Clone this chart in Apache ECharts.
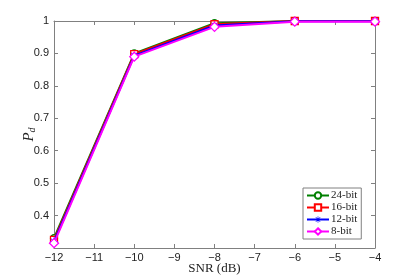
<!DOCTYPE html>
<html><head><meta charset="utf-8">
<script src="https://cdn.jsdelivr.net/npm/echarts@6/dist/echarts.min.js"></script>
<style>html,body{margin:0;padding:0;background:#fff}#c{width:415px;height:280px}</style>
</head><body><div id="c"></div>
<script>
const snr = [-12, -10, -8, -6, -4];
const bit24 = [0.330, 0.900, 0.993, 1.000, 1.000];
const bit16 = [0.325, 0.898, 0.990, 1.000, 1.000];
const bit12 = [0.320, 0.893, 0.986, 0.999, 0.999];
const bit8  = [0.315, 0.890, 0.982, 0.998, 0.998];
const names = ['24-bit', '16-bit', '12-bit', '8-bit'];
const colors = ['#008000', '#ff0000', '#0000ff', '#ff00ff'];
const vals = [bit24, bit16, bit12, bit8];
const star = 'path://M-1,-10L1,-10L1,10L-1,10ZM-10,-1L10,-1L10,1L-10,1ZM-6.3,-7.7L7.7,6.3L6.3,7.7L-7.7,-6.3ZM6.3,-7.7L7.7,-6.3L-6.3,7.7L-7.7,6.3Z';
const symbols = ['circle', 'rect', star, 'diamond'];
const sizes = [7, 7, 8, 9];
const fills = ['#fff', '#fff', '#0000ff', '#fff'];

const chart = echarts.init(document.getElementById('c'), null, {renderer: 'canvas'});
const axisCol = '#808080';
const series = names.map((n, i) => ({
  name: n, type: 'line',
  data: snr.map((x, j) => [x, vals[i][j]]),
  symbol: symbols[i], symbolSize: sizes[i],
  showAllSymbol: true,
  lineStyle: {color: colors[i], width: 2},
  itemStyle: {color: fills[i], borderColor: colors[i], borderWidth: i === 2 ? 0 : 1.3},
  z: 2 + i
}));
chart.setOption({
  animation: false,
  grid: {left: 54, right: 40, top: 21, bottom: 31},
  xAxis: [{
    type: 'value', min: -12, max: -4, interval: 1, position: 'bottom',
    name: 'SNR (dB)', nameLocation: 'middle', nameGap: 14, nameMoveOverlap: false,
    nameTextStyle: {fontFamily: 'Liberation Serif', fontSize: 13, color: '#222'},
    axisLine: {onZero: false, lineStyle: {color: axisCol, width: 1}},
    axisTick: {inside: true, length: 4, lineStyle: {color: axisCol}},
    axisLabel: {fontFamily: 'Liberation Sans', fontSize: 11, color: '#222', margin: 4,
      formatter: v => (v < 0 ? '\u2212' + (-v) : '' + v)},
    splitLine: {show: false}
  }, {
    type: 'value', min: -12, max: -4, interval: 1, position: 'top',
    axisLine: {onZero: false, lineStyle: {color: axisCol, width: 1}},
    axisTick: {inside: true, length: 4, lineStyle: {color: axisCol}},
    axisLabel: {show: false}, splitLine: {show: false}
  }],
  yAxis: [{
    type: 'value', min: 0.3, max: 1, interval: 0.1, position: 'left',
    name: '{p|P}{d|d}', nameLocation: 'middle', nameGap: 17, nameRotate: 90, nameMoveOverlap: false,
    nameTextStyle: {fontFamily: 'Liberation Serif', fontStyle: 'italic', fontSize: 14, color: '#222',
      rich: {
        p: {fontFamily: 'Liberation Serif', fontStyle: 'italic', fontSize: 15, color: '#222'},
        d: {fontFamily: 'Liberation Serif', fontStyle: 'italic', fontSize: 10, color: '#222', verticalAlign: 'bottom', padding: [6, 0, 0, 0]}
      }},
    axisLine: {onZero: false, lineStyle: {color: axisCol, width: 1}},
    axisTick: {inside: true, length: 4, lineStyle: {color: axisCol}},
    axisLabel: {fontFamily: 'Liberation Sans', fontSize: 11, color: '#222', margin: 5,
      formatter: v => (Math.abs(v - 0.3) < 1e-6 ? '' : (Math.abs(v - 1) < 1e-6 ? '1' : v.toFixed(1)))},
    splitLine: {show: false}
  }, {
    type: 'value', min: 0.3, max: 1, interval: 0.1, position: 'right',
    axisLine: {onZero: false, lineStyle: {color: axisCol, width: 1}},
    axisTick: {inside: true, length: 4, lineStyle: {color: axisCol}},
    axisLabel: {show: false}, splitLine: {show: false}
  }],
  legend: {
    orient: 'vertical', left: 303, top: 188,
    backgroundColor: '#fff', borderColor: axisCol, borderWidth: 1, borderRadius: 0,
    padding: [2, 4, 2, 3], itemGap: 1, itemWidth: 22, itemHeight: 8,
    textStyle: {fontFamily: 'Liberation Serif', fontSize: 11, color: '#222', lineHeight: 11, padding: [0, 0, 0, -3]},
    data: names
  },
  series: series
});
</script></body></html>
